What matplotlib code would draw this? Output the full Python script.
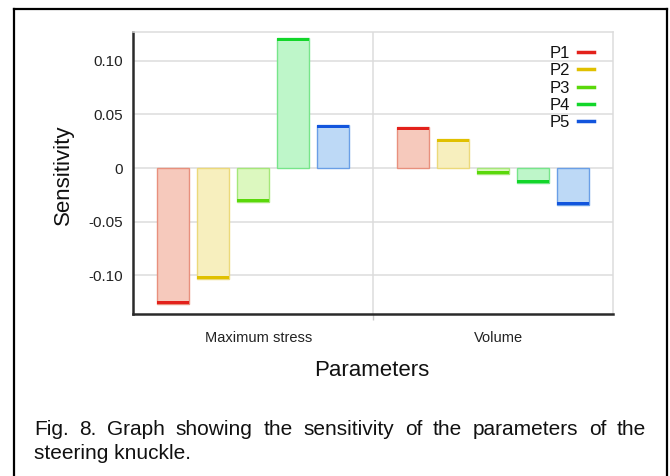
import matplotlib
matplotlib.use("Agg")
import matplotlib.pyplot as plt
import matplotlib.transforms as mtransforms
from matplotlib.lines import Line2D
import numpy as np

# ---- data ----
categories = ["Maximum stress", "Volume"]
series = ["P1", "P2", "P3", "P4", "P5"]
values_max_stress = [-0.127, -0.103, -0.032, 0.121, 0.040]
values_volume = [0.038, 0.027, -0.006, -0.014, -0.034]
ytick_vals = [0.10, 0.05, 0.0, -0.05, -0.10]
ytick_labels = ["0.10", "0.05", "0", "-0.05", "-0.10"]
caption_line1 = "Fig. 8. Graph showing the sensitivity of the parameters of the"
caption_line2 = "steering knuckle."

fills = ["#f6c9bc", "#f7efbe", "#dcf8bf", "#bef6c9", "#bdd9f6"]
edges = ["#e8907d", "#ecd97a", "#a5e779", "#77e58a", "#6a9fe6"]
ends = ["#e3211b", "#e0c000", "#5ad80a", "#12d62a", "#1255dd"]

W, H = 670, 476
plt.rcParams["font.family"] = ["Liberation Sans", "DejaVu Sans"]
fig = plt.figure(figsize=(W / 100, H / 100), dpi=100)
fig.patch.set_facecolor("white")


def fx(x):
    return x / W


def fy(y):
    return 1 - y / H


ax = fig.add_axes([fx(133), fy(314), fx(613) - fx(133), fy(31.7) - fy(314)])

data = np.array([values_max_stress, values_volume])
ncat = len(categories)
step = 1 / 6
bw = 0.1333
thick = 0.0028
xc = np.arange(ncat)
for i, s in enumerate(series):
    xs = xc + (i - 2) * step
    vals = data[:, i]
    ax.bar(xs, vals, width=bw, color=fills[i], edgecolor=edges[i], linewidth=1.0, zorder=2)
    sgn = np.sign(vals)
    ax.bar(xs, sgn * thick, bottom=vals - sgn * thick, width=bw, color=ends[i],
           linewidth=0, zorder=3)

ax.set_xlim(-0.5, ncat - 0.5)
ax.set_ylim(-0.136, 0.127)
ax.set_yticks(ytick_vals)
ax.set_yticklabels(ytick_labels, fontsize=11, color="#222222")
ax.set_xticks(xc)
ax.set_xticklabels(categories, fontsize=10.5, color="#222222")
ax.tick_params(axis="both", length=0)
ax.tick_params(axis="y", pad=7)
ax.tick_params(axis="x", pad=12)
shift = mtransforms.ScaledTranslation(6 / 100, 0, fig.dpi_scale_trans)
for lbl in ax.get_xticklabels():
    lbl.set_transform(lbl.get_transform() + shift)
ax.set_xticks([0.5], minor=True)
ax.tick_params(axis="x", which="minor", length=4, color="#cccccc", width=1)

ax.set_axisbelow(True)
ax.grid(axis="y", color="#dcdcdc", linewidth=1.1, zorder=0)
for b in np.arange(0.5, ncat - 0.5, 1):
    ax.axvline(b, color="#dcdcdc", linewidth=1.1, zorder=0)

for side in ["left", "bottom"]:
    ax.spines[side].set_color("#2a2a2a")
    ax.spines[side].set_linewidth(1.8)
for side in ["top", "right"]:
    ax.spines[side].set_color("#dcdcdc")
    ax.spines[side].set_linewidth(1.1)

handles = [Line2D([0], [0], color=ends[i], lw=2.5) for i in range(len(series))]
leg = fig.legend(handles, series, loc="upper right", bbox_to_anchor=(fx(594), fy(46)),
                 frameon=False, markerfirst=False, fontsize=12, handlelength=0.95,
                 handletextpad=0.5, labelspacing=0.14, borderpad=0, borderaxespad=0)
for t in leg.get_texts():
    t.set_color("#111111")

fig.text(fx(63), fy(175), "Sensitivity", rotation=90, ha="center", va="center",
         fontsize=16, color="#111111")
fig.text(fx(372), fy(370), "Parameters", ha="center", va="center", fontsize=16,
         color="#111111")

# caption, justified first line
renderer = fig.canvas.get_renderer()
words = caption_line1.split(" ")
left, right = 34, 646
objs = [fig.text(0, fy(435), w, fontsize=15, ha="left", va="baseline", color="#111111")
        for w in words]
widths = [o.get_window_extent(renderer).width for o in objs]
gap = (right - left - sum(widths)) / (len(words) - 1)
x = left
for o, wdt in zip(objs, widths):
    o.set_x(fx(x))
    x += wdt + gap
fig.text(fx(left), fy(459), caption_line2, fontsize=15, ha="left", va="baseline",
         color="#111111")

# outer border (top, left, right)
fig.add_artist(Line2D([fx(14), fx(14)], [0, fy(9)], color="black", lw=1.6,
                      transform=fig.transFigure))
fig.add_artist(Line2D([fx(667), fx(667)], [0, fy(9)], color="black", lw=1.6,
                      transform=fig.transFigure))
fig.add_artist(Line2D([fx(14), fx(667)], [fy(9), fy(9)], color="black", lw=1.6,
                      transform=fig.transFigure))

fig.savefig("out.png", dpi=100)
